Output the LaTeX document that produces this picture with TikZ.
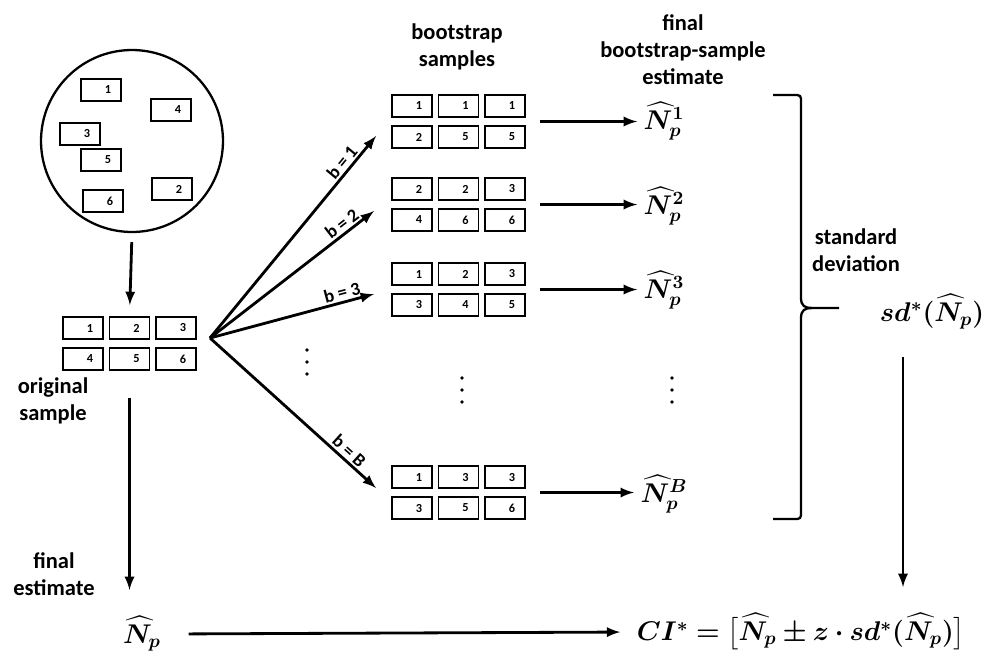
\documentclass[tikz,border=0pt]{standalone}
\usepackage{amsmath, bm}
\usepackage{fontspec}
\setmainfont{Carlito}
\usetikzlibrary{arrows, positioning, calc}

\tikzset{
  cell/.style={draw, line width=1.1pt, minimum width=0.8cm, minimum height=0.44cm,
    inner sep=0pt, font=\fontsize{7}{7}\selectfont\bfseries},
  lbl/.style={align=center, font=\fontsize{12.8}{15.4}\selectfont\bfseries},
  blbl/.style={font=\fontsize{10.5}{11}\selectfont\bfseries, sloped, above, inner sep=1pt},
  est/.style={font=\Large, scale=1.07},
  arr/.style={line width=1.6pt, -latex},
}

% 2x3 block of cells: name, x, y of first cell, six numbers
\newcommand{\samplegrid}[4]{%
  \foreach \v [count=\n] in {#4} {
    \pgfmathtruncatemacro{\cx}{mod(\n-1,3)}
    \pgfmathtruncatemacro{\cy}{div(\n-1,3)}
    \node[cell] (#1\n) at ({#2+46.5*\cx},{#3+31*\cy}) {\hspace*{0.28cm}\v};
  }}

\begin{document}
\begin{tikzpicture}[x=0.02cm, y=-0.02cm]
\useasboundingbox (0,0) rectangle (1003,656);

%population
\node[draw, circle, line width=1.3pt, minimum size=3.64cm] (pop) at (132,141) {};
\node[cell] (p1) at (101,90) {\hspace*{0.28cm}1};
\node[cell] (p4) at (171,110) {\hspace*{0.28cm}4};
\node[cell] (p3) at (80,134) {\hspace*{0.28cm}3};
\node[cell] (p5) at (101,160) {\hspace*{0.28cm}5};
\node[cell] (p2) at (172,189) {\hspace*{0.28cm}2};
\node[cell] (p6) at (103,201) {\hspace*{0.28cm}6};

%original sample
\samplegrid{o}{83}{328}{1,2,3,4,5,6}
\node[lbl] (olbl) at (53,401) {original\\sample};
\draw[arr] (pop.south) -- (o2.north) [shorten <=0.18cm, shorten >=0.22cm];

%bootstrap samples
\node[lbl] (bhead) at (457,47) {bootstrap\\samples};
\samplegrid{ga}{412}{106}{1,1,1,2,5,5}
\samplegrid{gb}{412}{189}{2,2,3,4,6,6}
\samplegrid{gc}{412}{274}{1,2,3,3,4,5}
\samplegrid{gd}{412}{477}{1,3,3,3,5,6}

%fan of resamples
\coordinate (fan) at (210,338);
\coordinate (ta) at (376,136);
\coordinate (tb) at (374,211);
\coordinate (tc) at (374,294);
\coordinate (td) at (376,488);
\draw[arr] (fan) -- (ta) node[blbl, pos=0.84] {b = 1};
\draw[arr] (fan) -- (tb) node[blbl, pos=0.84] {b = 2};
\draw[arr] (fan) -- (tc) node[blbl, pos=0.82] {b = 3};
\draw[arr] (fan) -- (td) node[blbl, pos=0.8] {b = B};

%estimates per bootstrap sample
\node[lbl] (ehead) at (683,50) {final\\bootstrap-sample\\estimate};
\node[est] (ea) at (664,121) {$\bm{\widehat{N}_p^{1}}$};
\node[est] (eb) at (664,206) {$\bm{\widehat{N}_p^{2}}$};
\node[est] (ec) at (664,290) {$\bm{\widehat{N}_p^{3}}$};
\node[est] (ed) at (664,494) {$\bm{\widehat{N}_p^{B}}$};
\draw[arr] ($(ga3.east)!0.5!(ga6.east)+(14,0)$) -- (ea.west |- {$(ga3.east)!0.5!(ga6.east)$});
\draw[arr] ($(gb3.east)!0.5!(gb6.east)+(14,0)$) -- (eb.west |- {$(gb3.east)!0.5!(gb6.east)$});
\draw[arr] ($(gc3.east)!0.5!(gc6.east)+(14,0)$) -- (ec.west |- {$(gc3.east)!0.5!(gc6.east)$});
\draw[arr] ($(gd3.east)!0.5!(gd6.east)+(14,0)$) -- (ed.west |- {$(gd3.east)!0.5!(gd6.east)$});

%dots
\foreach \px/\py in {307/350, 462/378, 672/378}
  \foreach \k in {0,1,2}
    \fill ({\px},{\py+12*\k}) circle (1.9);

%brace
\draw[line width=1.3pt] (773,95) -- (793,95) .. controls (801,95) .. (801,103) -- (801,298)
  .. controls (801,306) and (805,308) .. (812,308) -- (839,308);
\draw[line width=1.3pt] (812,308) .. controls (805,308) and (801,310) .. (801,318) -- (801,511)
  .. controls (801,519) .. (793,519) -- (773,519);
\node[lbl] (sdlbl) at (856,250) {standard\\deviation};
\node[est] (sd) at (932,312) {$\bm{sd^{*}(\widehat{N}_p)}$};

%final estimate and interval
\node[lbl] (flbl) at (54,574) {final\\estimate};
\node[est] (np) at (142,634) {$\bm{\widehat{N}_p}$};
\node[est] (ci) at (801,632) {$\bm{CI^{*} = \bigl[\widehat{N}_p \pm z\cdot sd^{*}(\widehat{N}_p)\bigr]}$};
\draw[arr] (o5.south) -- (o5.south |- np.north) [shorten <=0.54cm, shorten >=0.4cm];
\draw[arr] (np.east) -- (ci.west) [shorten <=0.42cm, shorten >=0.2cm];
\coordinate (sdfoot) at (903,357);
\draw[arr] (sdfoot) -- (sdfoot |- ci.north) [shorten >=0.4cm];
\end{tikzpicture}
\end{document}
